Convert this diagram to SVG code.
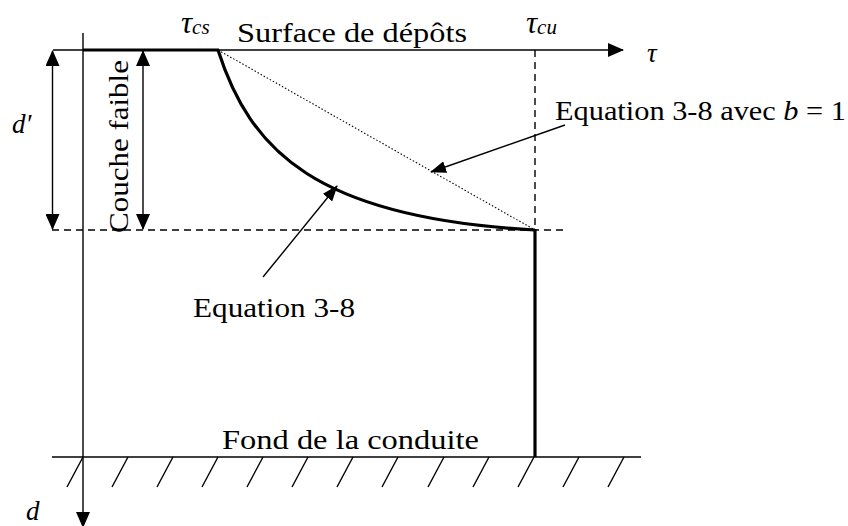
<svg xmlns="http://www.w3.org/2000/svg" width="848" height="526" viewBox="0 0 848 526">
<style>
.t{font-family:"Liberation Serif","Times New Roman",serif;font-size:27px;fill:#000}
.i{font-style:italic}
.thin{stroke:#000;stroke-width:1.4;fill:none}
.thick{stroke:#000;stroke-width:3.2;fill:none}
.dash{stroke:#000;stroke-width:1.4;fill:none;stroke-dasharray:7 5}
.dot{stroke:#000;stroke-width:1.1;fill:none;stroke-dasharray:1.5 2}
</style>
<defs>
<marker id="ah" viewBox="0 0 16 14" refX="15" refY="7" markerWidth="16" markerHeight="14" markerUnits="userSpaceOnUse" orient="auto">
<path d="M0,0 L16,7 L0,14 z" fill="#000"/>
</marker>
<marker id="ah2" viewBox="0 0 16 14" refX="15" refY="7" markerWidth="16" markerHeight="14" markerUnits="userSpaceOnUse" orient="auto-start-reverse">
<path d="M0,0 L16,7 L0,14 z" fill="#000"/>
</marker>
<marker id="ahs" viewBox="0 0 16 12" refX="15" refY="6" markerWidth="16" markerHeight="12" markerUnits="userSpaceOnUse" orient="auto">
<path d="M0,0 L16,6 L0,12 z" fill="#000"/>
</marker>
</defs>

<g id="axes">
<line class="thin" x1="53" y1="50" x2="623" y2="50" marker-end="url(#ah)"/>
<line class="thin" x1="83" y1="33" x2="83" y2="527" marker-end="url(#ah)"/>
<line class="thin" x1="52" y1="457" x2="641" y2="457"/>
</g>

<g id="hatching">
<path class="thin" d="M83,457 L67,487 M128,457 L112,487 M173,457 L157,487 M218,457 L202,487 M263,457 L247,487 M308,457 L292,487 M353,457 L337,487 M398,457 L382,487 M444,457 L428,487 M489,457 L473,487 M534,457 L518,487 M579,457 L563,487 M624,457 L608,487"/>
</g>

<g id="profile">
<line class="thick" x1="83" y1="50" x2="219" y2="50"/>
<path class="thick" d="M218,50 C250,150 315,218 535,230"/>
<line class="thick" x1="535" y1="229" x2="535" y2="457"/>
<line class="dot" x1="218" y1="50" x2="535" y2="230"/>
</g>

<g id="guides">
<line class="dash" x1="535" y1="50" x2="535" y2="230"/>
<line class="dash" x1="52" y1="230" x2="567" y2="230"/>
</g>

<g id="connectors">
<line class="thin" x1="52.5" y1="51" x2="52.5" y2="229" marker-start="url(#ah2)" marker-end="url(#ah2)"/>
<line class="thin" x1="143" y1="51" x2="143" y2="229" marker-start="url(#ah2)" marker-end="url(#ah2)"/>
<line class="thin" x1="565" y1="125" x2="431" y2="172" marker-end="url(#ahs)"/>
<line class="thin" x1="263" y1="277" x2="337" y2="186" marker-end="url(#ahs)"/>
</g>

<g id="labels">
<text class="t i" x="181" y="33"><tspan font-size="31">τ</tspan><tspan font-size="21" dy="1">cs</tspan></text>
<text class="t" x="237" y="42" textLength="230" lengthAdjust="spacingAndGlyphs">Surface de dépôts</text>
<text class="t i" x="526" y="33"><tspan font-size="31">τ</tspan><tspan font-size="21" dy="1">cu</tspan></text>
<text class="t i" x="647" y="62" font-size="32">τ</text>
<text class="t" x="555" y="120" textLength="291" lengthAdjust="spacingAndGlyphs">Equation 3-8 avec <tspan class="i">b</tspan> = 1</text>
<text class="t i" x="12" y="133" font-size="31">d′</text>
<text class="t" transform="translate(128,233) rotate(-90)" x="0" y="0" textLength="173" lengthAdjust="spacingAndGlyphs">Couche faible</text>
<text class="t" x="193" y="317" textLength="162" lengthAdjust="spacingAndGlyphs">Equation 3-8</text>
<text class="t" x="222" y="449" textLength="257" lengthAdjust="spacingAndGlyphs">Fond de la conduite</text>
<text class="t i" x="26" y="520" font-size="30">d</text>
</g>
</svg>
